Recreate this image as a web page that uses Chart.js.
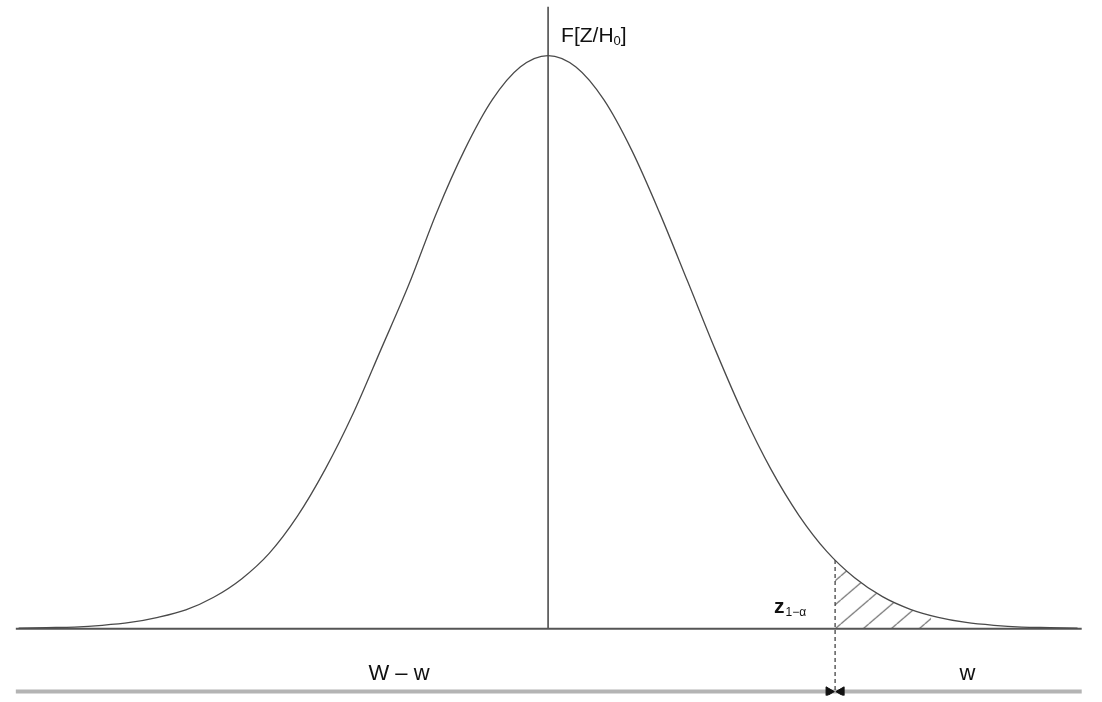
<!DOCTYPE html>
<html>
<head>
<meta charset="utf-8">
<title>F[Z/H0]</title>
<script src="https://cdn.jsdelivr.net/npm/chart.js@4.4.1/dist/chart.umd.min.js"></script>
<style>
  html, body { margin: 0; padding: 0; background: #fff; overflow: hidden; }
  canvas { display: block; }
</style>
</head>
<body>
<canvas id="c" width="1102" height="702"></canvas>
<script>
// Standardised statistic Z (in units of sigma) and relative density height F[Z/H0]
const zGrid   = [-3.8,-3.6,-3.4,-3.2,-3.0,-2.8,-2.6,-2.4,-2.2,-2.0,-1.8,-1.6,-1.4,-1.2,-1.0,-0.8,-0.6,-0.4,-0.2,0.0,
                  0.2,0.4,0.6,0.8,1.0,1.2,1.4,1.6,1.8,2.0,2.2,2.4,2.6,2.8,3.0,3.2,3.4,3.6,3.8];
const density = [0.001,0.002,0.003,0.006,0.011,0.020,0.033,0.055,0.087,0.132,0.196,0.278,0.375,0.487,0.600,0.726,0.835,0.923,0.980,1.000,
                 0.980,0.923,0.835,0.726,0.607,0.487,0.375,0.278,0.198,0.135,0.089,0.056,0.034,0.020,0.011,0.006,0.003,0.002,0.001];

// Rejection region (hatched tail), starting at the critical value z(1-alpha)
const zCrit    = 2.06;
const tailZ    = [2.06, 2.2, 2.4, 2.6, 2.75];
const tailDens = [0.120, 0.089, 0.056, 0.034, 0.023];

// Extent of the base line and of the W / w bar below it
const zLeft = -3.82, zRight = 3.83;
const axisTop = 1.0856;
const barLevel = -0.1096;

const pairs = (xs, ys) => xs.map((x, i) => ({ x, y: ys[i] }));

// Diagonal hatch pattern for the tail area
const HATCH_W = 28, HATCH_H = 24;
function hatchPattern() {
  const w = HATCH_W, h = HATCH_H;
  const pc = document.createElement('canvas');
  pc.width = w; pc.height = h;
  const g = pc.getContext('2d');
  g.strokeStyle = '#666';
  g.lineWidth = 1.1;
  g.beginPath();
  [-w, 0, w].forEach(dx => { g.moveTo(dx, h); g.lineTo(dx + w, 0); });
  g.stroke();
  return g.createPattern(pc, 'repeat');
}
const hatch = hatchPattern();

// Shift the hatch so one stroke starts at the foot of the critical line
const hatchPhase = {
  id: 'hatchPhase',
  beforeDatasetsDraw(chart) {
    const { x, y } = chart.scales;
    const tx = x.getPixelForValue(zCrit) + (HATCH_W / HATCH_H) * y.getPixelForValue(0);
    hatch.setTransform(new DOMMatrix([1, 0, 0, 1, tx % HATCH_W, 0]));
  }
};

// Labels drawn on top of the plot
const labels = {
  id: 'labels',
  afterDraw(chart) {
    const { ctx, scales: { x } } = chart;
    const font = (s, b) => (b ? 'bold ' : '') + s + 'px "Liberation Sans", Arial, sans-serif';
    ctx.save();
    ctx.fillStyle = '#111';
    ctx.textBaseline = 'alphabetic';

    // F[Z/H0] next to the vertical axis
    let px = x.getPixelForValue(0) + 13, py = 42;
    ctx.font = font(21);
    ctx.fillText('F[Z/H', px, py);
    px += ctx.measureText('F[Z/H').width;
    ctx.font = font(13);
    ctx.fillText('0', px, py + 3);
    px += ctx.measureText('0').width;
    ctx.font = font(21);
    ctx.fillText(']', px, py);

    // z(1-alpha) left of the dashed critical line
    px = x.getPixelForValue(zCrit) - 61; py = 613;
    ctx.font = font(21, true);
    ctx.fillText('z', px, py);
    px += ctx.measureText('z').width + 1;
    ctx.font = font(12);
    ctx.fillText('1\u2212\u03b1', px, py + 3);

    // W – w and w under the base line
    ctx.font = font(22);
    ctx.textAlign = 'center';
    ctx.fillText('W \u2013 w', x.getPixelForValue(-1.07), 680);
    ctx.fillText('w', x.getPixelForValue(3.01), 680);
    ctx.restore();
  }
};

new Chart(document.getElementById('c'), {
  type: 'line',
  data: {
    datasets: [
      { // density curve
        data: pairs(zGrid, density),
        borderColor: '#4a4a4a', borderWidth: 1.3,
        cubicInterpolationMode: 'monotone', pointRadius: 0, fill: false, order: 1
      },
      { // hatched rejection region
        data: pairs(tailZ, tailDens),
        borderWidth: 0, borderColor: 'rgba(0,0,0,0)',
        backgroundColor: hatch,
        cubicInterpolationMode: 'monotone', pointRadius: 0, fill: 'origin', order: 3
      },
      { // base line
        data: [{ x: zLeft, y: 0 }, { x: zRight, y: 0 }],
        borderColor: '#555', borderWidth: 2, pointRadius: 0, fill: false, order: 2
      },
      { // vertical axis at Z = 0
        data: [{ x: 0, y: 0 }, { x: 0, y: axisTop }],
        borderColor: '#333', borderWidth: 1.4, pointRadius: 0, fill: false, order: 2
      },
      { // dashed critical line
        data: [{ x: zCrit, y: tailDens[0] }, { x: zCrit, y: barLevel }],
        borderColor: '#333', borderWidth: 1.2, borderDash: [4, 3],
        pointRadius: 0, fill: false, order: 2
      },
      { // W / w bar
        data: [{ x: zLeft, y: barLevel }, { x: zRight, y: barLevel }],
        borderColor: '#b4b4b4', borderWidth: 4, pointRadius: 0, fill: false, order: 4
      },
      { // arrow heads meeting at the critical value
        data: [{ x: zCrit - 0.045, y: barLevel }, { x: zCrit + 0.045, y: barLevel }],
        showLine: false, pointStyle: 'triangle', pointRadius: 5.5,
        rotation: [90, -90], backgroundColor: '#111', borderColor: '#111', borderWidth: 1,
        fill: false, order: 0
      }
    ]
  },
  options: {
    responsive: false,
    animation: false,
    layout: { padding: 0 },
    plugins: { legend: { display: false }, tooltip: { enabled: false } },
    scales: {
      x: { type: 'linear', min: -3.887, max: 3.929, display: false },
      y: { type: 'linear', min: -0.1164, max: axisTop, display: false }
    }
  },
  plugins: [hatchPhase, labels]
});
</script>
</body>
</html>
